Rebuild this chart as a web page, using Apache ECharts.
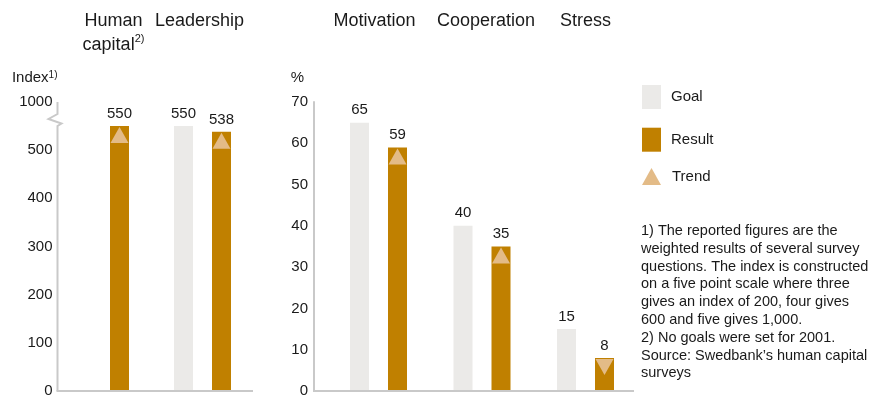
<!DOCTYPE html>
<html>
<head>
<meta charset="utf-8">
<script src="https://cdn.jsdelivr.net/npm/echarts@6/dist/echarts.min.js"></script>
<style>
  html, body { margin: 0; padding: 0; background: #fff; }
  #chart { width: 869px; height: 396px; }
</style>
</head>
<body>
<div id="chart"></div>
<script>
// Index-based measures (left panel)
const indexCategories = ['Human capital', 'Leadership'];
const indexNotes = ['2)', ''];
const indexGoal = [null, 550];
const indexResult = [550, 538];
const indexTrend = ['up', 'up'];
const indexTickLabels = ['0', '100', '200', '300', '400', '500', '1000'];

// Percentage measures (right panel)
const pctCategories = ['Motivation', 'Cooperation', 'Stress'];
const pctGoal = [65, 40, 15];
const pctResult = [59, 35, 8];
const pctTrend = ['up', 'up', 'down'];
const pctTickLabels = ['0', '10', '20', '30', '40', '50', '60', '70'];

const footnoteLines = [
  '1) The reported figures are the',
  'weighted results of several survey',
  'questions. The index is constructed',
  'on a five point scale where three',
  'gives an index of 200, four gives',
  '600 and five gives 1,000.',
  '2) No goals were set for 2001.',
  'Source: Swedbank\u2019s human capital',
  'surveys'
];

// ---- styling ----
const FONT = 'Liberation Sans, Arial, Helvetica, sans-serif';
const TEXT = '#1a1a1a';
const GOAL = '#ebeae8';
const RESULT = '#c08000';
const TREND = '#e3bb87';
const AXIS = '#c9c9c9';
const BAR_W = 19;
const HEAD_LINE = 24;

// horizontal nudges of the column headings (px, + = right)
const headingShift = { 'Human capital': 13, 'Leadership': -3, 'Motivation': -4, 'Cooperation': 4, 'Stress': 0 };

// panel geometry
const LEFT = { gridLeft: 49.5, gridWidth: 204, axisX: 57.5, lineEnd: 253 };
const RIGHT = { gridLeft: 326.75, gridWidth: 310.5, axisX: 314, lineEnd: 634 };
const GRID_TOP = 102, GRID_BOTTOM = 5;

const supRich = {
  sup: { fontSize: 11, fontFamily: FONT, color: TEXT, verticalAlign: 'top', lineHeight: 18 }
};

// headings hang from a common top line: one-line headings get an empty line's worth of space below
function headingItems(cats) {
  return cats.map(c => {
    const s = headingShift[c] || 0;
    const lines = c.split(' ').length;
    const bottom = (2 - lines) * HEAD_LINE;
    return {
      value: c,
      textStyle: { padding: s >= 0 ? [0, 0, bottom, 2 * s] : [0, -2 * s, bottom, 0] }
    };
  });
}

function categoryAxis(gridIndex, cats, notes) {
  return {
    gridIndex, type: 'category', position: 'top', data: headingItems(cats),
    axisLine: { show: false }, axisTick: { show: false },
    axisLabel: {
      interval: 0, margin: 45,
      fontSize: 18, lineHeight: HEAD_LINE, color: TEXT, fontFamily: FONT,
      formatter: (name) => {
        const i = cats.indexOf(name);
        const note = notes && notes[i] ? '{sup|' + notes[i] + '}' : '';
        return name.replace(' ', '\n') + note;
      },
      rich: supRich
    }
  };
}

function valueAxis(gridIndex, ticks, step, panel, name, nameRight) {
  return {
    gridIndex, type: 'value', min: 0, max: (ticks.length - 1) * step, interval: step,
    offset: panel.gridLeft - panel.axisX,
    axisLine: { show: false }, axisTick: { show: false }, splitLine: { show: false },
    axisLabel: {
      margin: gridIndex === 0 ? 5 : 6, fontSize: 15, color: TEXT, fontFamily: FONT,
      formatter: v => ticks[Math.round(v / step)]
    },
    name, nameLocation: 'end', nameGap: 24,
    nameTextStyle: {
      align: 'right', verticalAlign: 'middle', fontSize: 15, color: TEXT, fontFamily: FONT,
      padding: [0, nameRight, 0, 0],
      rich: { sup: { fontSize: 10, fontFamily: FONT, color: TEXT, verticalAlign: 'top', lineHeight: 14 } }
    }
  };
}

const valueLabel = { show: true, position: 'top', distance: 5, fontSize: 15, color: TEXT, fontFamily: FONT };

function barSeries(name, color, data, axisIndex) {
  return {
    name, type: 'bar', xAxisIndex: axisIndex, yAxisIndex: axisIndex,
    data, barWidth: BAR_W, barGap: '100%', itemStyle: { color }, label: valueLabel
  };
}

function trendSeries(values, dirs, axisIndex) {
  return {
    name: 'Trend', type: 'scatter', xAxisIndex: axisIndex, yAxisIndex: axisIndex, z: 4,
    symbol: 'triangle', symbolSize: [18, 16], symbolOffset: [BAR_W, 9],
    itemStyle: { color: TREND, opacity: 1 },
    data: values.map((v, i) => ({ value: v, symbolRotate: dirs[i] === 'down' ? 180 : 0 }))
  };
}

const chart = echarts.init(document.getElementById('chart'), null, { renderer: 'canvas' });

chart.setOption({
  animation: false,
  textStyle: { fontFamily: FONT },
  grid: [
    { left: LEFT.gridLeft, width: LEFT.gridWidth, top: GRID_TOP, bottom: GRID_BOTTOM, outerBoundsMode: 'none', containLabel: false },
    { left: RIGHT.gridLeft, width: RIGHT.gridWidth, top: GRID_TOP, bottom: GRID_BOTTOM, outerBoundsMode: 'none', containLabel: false }
  ],
  xAxis: [
    categoryAxis(0, indexCategories, indexNotes),
    categoryAxis(1, pctCategories, null)
  ],
  yAxis: [
    valueAxis(0, indexTickLabels, 100, LEFT, 'Index{sup|1)}', 0),
    Object.assign(valueAxis(1, pctTickLabels, 10, RIGHT, '%', 10), {
      axisLine: { show: true, lineStyle: { color: AXIS, width: 2 } }
    })
  ],
  legend: [
    {
      data: ['Goal', 'Result'], orient: 'vertical', left: 642, top: 85, padding: 0,
      itemWidth: 19, itemHeight: 24, itemGap: 18.7, icon: 'rect',
      textStyle: { fontSize: 15, color: TEXT, fontFamily: FONT, padding: [0, 0, 0, 5] }
    },
    {
      data: ['Trend'], orient: 'vertical', left: 642, top: 168, padding: 0,
      itemWidth: 19, itemHeight: 17, symbolKeepAspect: false,
      textStyle: { fontSize: 15, color: TEXT, fontFamily: FONT, padding: [3, 0, 0, 6] }
    }
  ],
  title: {
    left: 641, top: 222, padding: 0,
    text: footnoteLines.join('\n'),
    textStyle: { fontSize: 14.5, lineHeight: 17.8, fontWeight: 'normal', color: TEXT, fontFamily: FONT }
  },
  series: [
    barSeries('Goal', GOAL, indexGoal, 0),
    barSeries('Result', RESULT, indexResult, 0),
    trendSeries(indexResult, indexTrend, 0),
    barSeries('Goal', GOAL, pctGoal, 1),
    barSeries('Result', RESULT, pctResult, 1),
    trendSeries(pctResult, pctTrend, 1)
  ]
});

// Axis lines: broken index axis on the left, baselines under both panels
const yTopL = chart.convertToPixel({ yAxisIndex: 0 }, (indexTickLabels.length - 1) * 100);
const y0L = chart.convertToPixel({ yAxisIndex: 0 }, 0);
const y0R = chart.convertToPixel({ yAxisIndex: 1 }, 0);
const ax = LEFT.axisX;
const lineStyle = { stroke: AXIS, lineWidth: 2, fill: null };

chart.setOption({
  graphic: [
    {
      type: 'polyline', silent: true, z: 10,
      shape: { points: [
        [ax, yTopL], [ax, yTopL + 12], [ax - 9, yTopL + 17],
        [ax + 4, yTopL + 21.5], [ax, yTopL + 24], [ax, y0L]
      ] },
      style: lineStyle
    },
    {
      type: 'line', silent: true, z: 10,
      shape: { x1: ax - 1, y1: y0L, x2: LEFT.lineEnd, y2: y0L },
      style: lineStyle
    },
    {
      type: 'line', silent: true, z: 10,
      shape: { x1: RIGHT.axisX - 1, y1: y0R, x2: RIGHT.lineEnd, y2: y0R },
      style: lineStyle
    }
  ]
});
</script>
</body>
</html>
